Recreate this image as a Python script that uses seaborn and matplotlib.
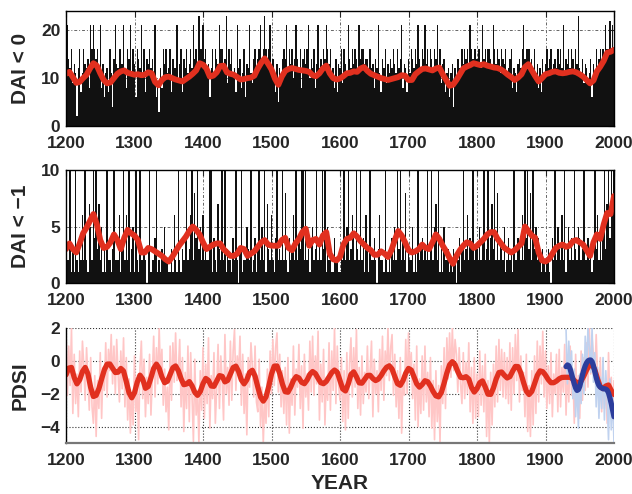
"""Drought area index and PDSI reconstruction, 1200-2000."""
import matplotlib
matplotlib.use("Agg")
import matplotlib.pyplot as plt
import numpy as np
import seaborn as sns

YEARS_2 = np.arange(1200, 2001, 2)
YEARS_4 = np.arange(1200, 2001, 4)
YEARS_5 = np.arange(1200, 2001, 5)
BLUE_YEARS = np.arange(1930, 2001, 2)

XTICKS = [1200, 1300, 1400, 1500, 1600, 1700, 1800, 1900, 2000]

# DAI < 0, annual counts (every 2nd year)
dai0_annual = [
    16, 21, 14, 12, 16, 9, 13, 11, 2, 12, 16, 7, 11, 16, 13, 12, 14, 8, 21, 16,
    21, 16, 14, 16, 12, 21, 8, 13, 6, 11, 12, 7, 16, 11, 4, 14, 21, 13, 12, 16,
    16, 13, 21, 12, 8, 16, 14, 21, 11, 16, 13, 6, 16, 14, 12, 21, 10, 16, 7, 14,
    13, 16, 12, 14, 11, 21, 6, 9, 3, 12, 8, 16, 13, 16, 11, 12, 16, 7, 14, 12,
    12, 21, 9, 13, 16, 7, 14, 12, 16, 11, 13, 16, 12, 21, 14, 16, 13, 23, 16, 16,
    21, 14, 16, 11, 13, 6, 12, 16, 10, 16, 14, 13, 21, 16, 16, 12, 14, 23, 9, 16,
    13, 16, 11, 12, 7, 21, 12, 14, 8, 11, 16, 6, 13, 12, 21, 11, 9, 14, 16, 12,
    14, 16, 21, 13, 16, 23, 16, 13, 16, 21, 12, 14, 11, 7, 13, 5, 12, 9, 14, 16,
    14, 21, 12, 16, 13, 16, 10, 14, 21, 14, 12, 16, 8, 14, 16, 13, 16, 21, 10, 14,
    12, 16, 8, 13, 21, 12, 14, 11, 16, 14, 21, 16, 13, 16, 10, 12, 8, 14, 7, 13,
    12, 16, 9, 16, 13, 11, 21, 14, 12, 16, 13, 16, 14, 12, 21, 14, 16, 16, 13, 14,
    14, 11, 16, 12, 13, 8, 14, 12, 21, 11, 7, 14, 12, 16, 9, 13, 11, 14, 12, 16,
    13, 11, 16, 12, 14, 21, 8, 13, 12, 7, 14, 11, 16, 14, 12, 16, 13, 21, 14, 12,
    16, 14, 21, 13, 16, 12, 16, 14, 11, 16, 14, 21, 12, 16, 9, 13, 14, 7, 11, 12,
    6, 11, 13, 4, 12, 9, 14, 12, 11, 16, 13, 16, 14, 16, 12, 21, 16, 14, 16, 16,
    14, 16, 16, 12, 21, 14, 16, 13, 16, 16, 14, 12, 21, 16, 13, 16, 14, 11, 16, 14,
    13, 16, 11, 12, 14, 16, 8, 12, 11, 7, 13, 14, 12, 16, 21, 14, 16, 16, 16, 13,
    14, 12, 16, 11, 13, 8, 12, 7, 14, 11, 13, 16, 12, 14, 16, 11, 13, 14, 12, 16,
    13, 16, 12, 21, 11, 14, 13, 16, 12, 16, 14, 11, 16, 13, 23, 12, 11, 14, 9, 13,
    12, 9, 11, 14, 6, 13, 11, 16, 12, 14, 16, 13, 16, 14, 21, 16, 16, 22, 16, 21,
    16,
]

# DAI < 0, running mean (every 5 years)
dai0_smooth = [
    10.9, 11.3, 10.2, 9.0, 9.2, 10.0, 10.7, 12.0, 13.1, 12.6,
    11.0, 9.6, 8.9, 9.1, 10.0, 10.9, 11.4, 11.6, 11.1, 10.9,
    10.7, 10.8, 10.6, 10.7, 11.2, 11.0, 9.2, 8.5, 9.6, 10.2,
    10.3, 10.0, 9.7, 9.5, 9.3, 9.8, 10.3, 10.9, 11.6, 13.1,
    12.8, 12.0, 10.3, 10.5, 11.2, 12.5, 12.6, 11.2, 10.9, 10.7,
    10.2, 9.7, 9.8, 10.0, 10.1, 10.5, 12.0, 13.2, 14.1, 13.0,
    11.8, 9.9, 8.6, 10.3, 11.5, 11.9, 12.1, 11.9, 11.7, 11.6,
    11.5, 11.3, 10.6, 10.4, 11.0, 12.0, 12.6, 11.0, 10.0, 9.7,
    9.9, 10.4, 11.0, 11.1, 11.4, 11.3, 12.0, 12.3, 11.5, 10.9,
    10.6, 10.3, 10.0, 9.8, 9.6, 9.8, 10.0, 10.2, 10.6, 10.5,
    9.6, 9.6, 10.8, 11.4, 11.9, 12.0, 11.8, 11.6, 12.0, 12.2,
    10.8, 9.6, 8.4, 8.6, 9.6, 10.8, 12.0, 12.4, 12.7, 13.1,
    12.9, 12.7, 12.9, 12.6, 12.4, 12.2, 12.1, 11.8, 11.3, 10.7,
    10.2, 9.6, 10.1, 10.8, 12.3, 12.9, 11.6, 10.4, 9.3, 10.0,
    10.8, 11.0, 11.3, 11.4, 11.1, 11.0, 11.1, 11.3, 11.4, 11.2,
    10.8, 10.3, 9.6, 8.9, 9.5, 11.4, 12.4, 13.6, 15.3, 15.5,
    15.9,
]

# DAI < -1, annual counts (every 2nd year)
dai1_annual = [
    4, 2, 2, 10, 1, 3, 1, 12, 2, 1, 3, 2, 6, 2, 10, 2, 1, 7, 5, 2,
    10, 4, 12, 3, 7, 2, 5, 1, 3, 1, 10, 2, 2, 1, 3, 10, 2, 2, 2, 6,
    1, 3, 10, 2, 6, 2, 12, 1, 3, 5, 1, 10, 2, 1, 10, 2, 2, 3, 2, 0,
    3, 10, 1, 2, 2, 4, 10, 1, 2, 1, 3, 2, 5, 2, 2, 1, 1, 3, 1, 6,
    2, 1, 10, 2, 1, 3, 2, 4, 10, 2, 3, 6, 12, 2, 8, 4, 10, 3, 5, 2,
    6, 2, 3, 2, 2, 10, 10, 1, 4, 2, 1, 7, 3, 2, 10, 2, 12, 1, 3, 2,
    2, 1, 4, 2, 10, 2, 0, 3, 10, 1, 2, 2, 5, 3, 2, 10, 1, 2, 4, 1,
    3, 10, 2, 5, 2, 10, 1, 7, 3, 2, 6, 2, 1, 4, 10, 2, 3, 2, 10, 2,
    8, 2, 1, 4, 2, 3, 6, 2, 10, 2, 4, 3, 10, 12, 2, 10, 2, 3, 1, 4,
    5, 2, 3, 10, 2, 4, 2, 10, 3, 12, 1, 5, 2, 2, 1, 1, 4, 2, 2, 1,
    1, 3, 2, 10, 2, 5, 10, 2, 3, 6, 4, 2, 12, 3, 2, 10, 2, 4, 1, 6,
    3, 1, 10, 2, 2, 4, 2, 0, 3, 6, 2, 2, 1, 10, 2, 1, 3, 1, 4, 2,
    5, 2, 10, 3, 10, 2, 4, 2, 8, 1, 3, 2, 2, 5, 1, 3, 1, 10, 2, 3,
    4, 2, 3, 2, 10, 2, 3, 10, 2, 5, 7, 2, 10, 1, 3, 1, 5, 2, 2, 3,
    1, 2, 1, 3, 2, 0, 2, 4, 1, 3, 10, 2, 3, 6, 2, 4, 3, 10, 2, 3,
    3, 2, 5, 2, 4, 10, 2, 3, 10, 2, 4, 7, 3, 10, 2, 8, 2, 4, 3, 2,
    5, 1, 2, 4, 2, 3, 1, 10, 2, 2, 4, 3, 2, 6, 2, 10, 4, 10, 3, 8,
    2, 10, 3, 5, 2, 4, 2, 1, 3, 2, 1, 2, 3, 1, 0, 4, 2, 10, 2, 5,
    3, 2, 6, 2, 10, 1, 3, 5, 2, 4, 2, 10, 3, 2, 5, 4, 2, 3, 10, 2,
    2, 4, 2, 3, 1, 2, 10, 3, 6, 2, 4, 2, 5, 10, 3, 7, 10, 4, 10, 6,
    10,
]

# DAI < -1, running mean (every 5 years)
dai1_smooth = [
    3.0, 3.5, 3.0, 2.7, 3.5, 4.4, 4.9, 5.5, 6.1, 5.2,
    3.8, 3.1, 3.2, 3.6, 4.3, 3.8, 3.0, 4.0, 4.7, 4.4,
    4.2, 3.8, 2.7, 2.7, 3.1, 3.0, 2.8, 2.6, 2.4, 2.1,
    1.9, 2.3, 2.8, 3.3, 3.7, 4.1, 4.6, 5.0, 4.7, 4.3,
    3.6, 3.0, 3.2, 3.4, 3.5, 3.5, 3.0, 2.7, 2.4, 2.4,
    2.6, 3.1, 3.0, 2.4, 2.6, 2.8, 3.2, 3.6, 3.8, 3.4,
    3.3, 3.3, 3.3, 3.8, 4.0, 3.1, 2.9, 3.5, 3.9, 4.5,
    4.8, 3.3, 3.8, 3.9, 3.4, 4.2, 4.5, 2.6, 2.1, 2.0,
    2.3, 3.4, 3.9, 4.0, 4.4, 4.1, 3.7, 3.4, 3.1, 2.9,
    2.5, 2.5, 2.8, 2.6, 2.3, 2.9, 3.8, 4.6, 4.2, 3.6,
    2.9, 2.7, 2.8, 3.0, 3.4, 3.1, 3.0, 3.6, 4.3, 3.9,
    3.3, 2.8, 2.2, 1.7, 2.4, 2.9, 3.3, 3.6, 3.5, 3.1,
    3.3, 3.6, 3.9, 4.3, 4.5, 4.5, 3.9, 3.5, 3.1, 2.9,
    2.7, 2.9, 3.2, 3.5, 5.0, 4.6, 4.2, 4.0, 2.7, 2.0,
    1.9, 2.1, 2.6, 3.1, 3.3, 3.4, 3.2, 3.3, 3.7, 3.8,
    3.6, 3.4, 2.9, 2.4, 3.6, 4.3, 3.9, 5.2, 6.2, 6.1,
    7.7,
]

# reconstructed PDSI, annual (every 2nd year)
pdsi_annual = [
    1.8, -2.1, 0.9, -1.5, 2.0, -3.2, 0.4, -2.6, -0.8, -3.4, 0.6, -1.9, 1.2, -0.3, -2.4, 0.8, -1.1, -3.0, 0.2, -2.8,
    -3.8, -0.9, -4.6, -1.2, -2.9, 0.5, -3.5, -0.4, -1.8, 1.1, -2.2, 0.7, -0.6, 1.6, -1.4, 0.9, -2.0, 1.3, -0.8, -2.5,
    0.6, -1.7, 1.4, -2.8, 0.2, -3.6, -1.1, -4.4, -2.0, -3.9, 0.3, -3.1, -1.5, -4.8, -0.4, 1.2, -2.3, 0.1, -3.4, -1.0,
    -2.6, 0.4, -3.3, -1.0, 1.5, -2.2, 0.8, -1.4, 2.0, -0.9, 0.7, -2.7, -0.5, -3.1, -1.6, -4.2, 0.9, -2.4, 1.1, -1.3,
    1.7, -1.2, -0.6, 1.3, -2.8, 0.2, -4.3, -0.7, -2.9, 0.9, -3.7, 0.5, -2.1, -4.9, 0.1, -3.3, -1.8, -5.0, -0.6, -3.0,
    0.8, -3.5, -0.2, -2.6, 1.4, -4.1, -0.9, -2.3, 0.5, -3.8, -1.7, 1.0, -2.9, 0.3, -1.2, -3.6, 1.6, -2.0, -0.4, -2.7,
    1.2, -2.4, 0.6, 1.9, -1.8, 0.3, -0.9, 1.5, -2.7, 0.4, -3.2, -0.8, -4.5, 0.2, -1.6, 1.1, -0.3, -2.2, 0.9, -2.5,
    -3.1, 0.1, -4.0, -1.6, -5.0, -2.3, -3.8, -0.5, -3.4, 0.6, -2.0, 1.3, -1.5, 0.8, 1.7, -1.9, 0.4, -2.8, -0.6, -3.2,
    -0.4, -3.9, 0.2, -4.4, -1.1, -2.7, 0.9, -3.3, -0.5, -1.6, 1.0, -2.9, -0.3, -4.1, 0.4, -2.2, -0.8, -3.0, 1.2, -1.9,
    1.5, -2.1, 0.3, -1.4, 1.8, -3.6, -0.2, -2.5, 0.7, -3.9, -1.0, -2.4, 1.1, -3.0, 0.6, -1.8, 2.0, -2.6, 0.9, -1.5,
    -2.4, 0.2, -3.7, -0.6, -4.2, 0.5, -3.5, -0.1, 1.4, -2.2, 0.8, -1.6, 1.9, -2.9, -0.4, -3.3, 0.3, -2.6, -0.7, -1.9,
    0.9, -2.3, -0.5, 1.2, -3.4, 0.1, -2.0, -0.6, -3.1, 0.7, -1.8, 1.5, -2.4, 0.6, -0.9, 2.0, -1.2, 0.8, 1.6, -2.1,
    0.4, -2.8, -0.6, -3.5, 0.2, -4.4, -0.9, -2.1, 1.3, -2.0, 1.7, -0.8, 0.5, -2.3, -0.2, -3.6, 0.9, -4.0, -1.1, -3.2,
    0.3, -3.0, 0.9, -2.5, -0.7, -3.4, 0.2, -4.1, -1.2, -4.8, -0.6, -3.7, -1.5, -5.0, -0.3, -2.6, 0.8, -2.9, 1.4, -1.1,
    1.7, -1.0, 2.0, -0.6, 1.3, 0.4, -1.9, 0.8, -1.4, -2.6, 0.5, -2.3, -0.1, -2.0, 1.1, -3.1, -0.4, -3.8, 0.2, -3.5,
    -0.8, -3.4, 0.6, -2.7, -0.3, -3.1, 0.4, -4.6, -1.2, -5.0, -0.7, -3.9, -0.2, -2.8, 0.9, -2.5, 1.3, -1.8, 0.7, -2.2,
    0.5, -2.3, 0.2, -2.6, 1.1, -3.0, 0.8, -2.0, 1.6, -1.2, 1.9, -2.5, 0.3, -1.8, -0.7, -3.4, 0.4, -4.3, -1.5, -4.6,
    -0.6, -3.9, 0.3, -3.2, 1.2, -2.5, 0.9, -1.4, 1.8, -2.2, 0.6, -2.9, -0.3, -2.6, 0.5, -3.4, -0.8, -2.0, 0.4, -3.1,
    0.7, -2.8, -0.4, -1.9, 1.0, -3.3, -0.1, -2.5, 0.9, -2.1, -0.6, -3.8, 0.4, -2.7, -0.9, -3.5, 0.6, -2.4, 0.2, -1.8,
    1.1, -1.6, 2.0, -0.8, 1.4, 0.3, -1.2, 1.6, -0.9, -2.3, 0.2, -3.1, -0.7, -2.9, -1.4, -3.8, 0.5, -2.6, -1.0, -3.6,
    -1.2,
]

# reconstructed PDSI, smoothed (every 4 years)
pdsi_smooth = [
    -0.85, -0.44, -0.40, -1.02, -1.40, -1.15, -0.65, -0.40, -0.79, -1.62,
    -2.17, -2.10, -1.69, -1.10, -0.54, -0.20, -0.19, -0.45, -0.71, -0.69,
    -0.46, -0.62, -1.26, -1.94, -2.25, -1.94, -1.30, -0.87, -1.11, -1.67,
    -1.56, -1.03, -0.46, -0.20, -0.45, -0.98, -1.33, -1.24, -0.83, -0.42,
    -0.31, -0.60, -1.09, -1.45, -1.41, -1.26, -1.52, -1.91, -2.10, -1.87,
    -1.39, -1.07, -1.19, -1.53, -1.55, -1.22, -0.90, -0.94, -1.28, -1.19,
    -0.80, -0.41, -0.32, -0.65, -1.16, -1.40, -1.15, -0.70, -0.57, -0.93,
    -1.59, -2.20, -2.45, -2.19, -1.55, -0.80, -0.32, -0.31, -0.78, -1.42,
    -1.88, -1.91, -1.60, -1.20, -0.96, -1.04, -1.31, -1.39, -1.16, -0.82,
    -0.65, -0.77, -1.06, -1.33, -1.39, -1.25, -0.98, -0.71, -0.56, -0.69,
    -1.20, -1.71, -1.83, -1.41, -0.83, -0.67, -0.97, -1.34, -1.36, -1.13,
    -0.89, -0.88, -1.08, -1.20, -1.11, -0.89, -0.61, -0.39, -0.30, -0.50,
    -0.96, -1.39, -1.49, -1.20, -0.75, -0.46, -0.56, -0.97, -1.40, -1.60,
    -1.44, -1.21, -1.27, -1.53, -1.87, -2.13, -2.19, -1.92, -1.36, -0.74,
    -0.24, -0.05, -0.24, -0.66, -1.00, -1.03, -0.96, -1.11, -1.62, -1.90,
    -1.69, -1.33, -1.22, -1.59, -2.03, -2.04, -1.65, -1.10, -0.71, -0.68,
    -0.88, -1.04, -0.96, -0.63, -0.34, -0.35, -0.74, -1.32, -1.84, -2.05,
    -1.86, -1.39, -0.89, -0.61, -0.66, -0.87, -1.14, -1.33, -1.33, -1.23,
    -1.09, -1.01, -1.00, -1.00, -1.00, -1.11, -1.27, -1.35, -1.23, -0.92,
    -0.55, -0.27, -0.21, -0.54, -1.10, -1.58, -1.69, -1.53, -1.47, -1.80,
    -2.05,
]

# instrumental PDSI, annual and smoothed (every 2nd year from 1930)
obs_annual = [
    1.9, -1.4, 1.2, -0.9, 0.6, -2.3, -0.5, -3.4, -1.2, -4.1,
    -0.8, -2.6, 0.4, -2.0, 1.5, -0.6, 2.0, 0.8, -0.7, 2.0,
    -1.3, 0.5, -2.8, -0.4, -3.5, -1.0, -2.9, 0.2, -3.6, -0.6,
    -2.4, -4.8, -1.1, -4.2, -2.0, -5.0,
]
obs_smooth = [
    -0.35, -0.25, -0.30, -0.50, -0.80, -1.10, -1.40, -1.65, -1.80, -1.75,
    -1.55, -1.20, -0.85, -0.55, -0.30, -0.12, 0.00, 0.05, 0.05, -0.05,
    -0.30, -0.65, -1.00, -1.30, -1.50, -1.60, -1.65, -1.70, -1.70, -1.72,
    -1.78, -1.95, -2.25, -2.60, -3.00, -3.40,
]

RED = "#e1301f"
NAVY = "#2c3d9c"
PINK = "#ffc6c6"
LIGHT_BLUE = "#c0d2ef"


def style_axes(ax, yticks, ylim, label, grid_style):
    ax.set_xlim(1200, 2000)
    ax.set_ylim(*ylim)
    ax.set_xticks(XTICKS)
    ax.set_yticks(yticks)
    ax.set_xlabel("")
    ax.grid(True, linestyle=grid_style, color="#666666", linewidth=0.7)
    ax.tick_params(direction="in", length=4, width=0.8, top=True, right=True,
                   labelsize=12.5, pad=4)
    ax.tick_params(axis="x", pad=7)
    ax.set_ylabel(label, fontsize=15, fontweight="bold")
    ax.yaxis.set_label_coords(-0.066, 0.5)
    for sp in ax.spines.values():
        sp.set_color("black")
        sp.set_linewidth(1.0)


def main() -> None:
    sns.set_style("white")
    plt.rcParams["font.family"] = ["Liberation Sans", "DejaVu Sans"]
    plt.rcParams["font.weight"] = "bold"

    fig = plt.figure(figsize=(6.32, 4.94), dpi=100)
    W, H = 632, 494
    ax1 = fig.add_axes([66 / W, 1 - 126 / H, 548 / W, 115 / H])
    ax2 = fig.add_axes([66 / W, 1 - 283 / H, 548 / W, 113 / H])
    ax3 = fig.add_axes([66 / W, 1 - 443 / H, 548 / W, 115 / H])

    dashdot = (0, (3, 2, 1, 2))

    # top: DAI < 0
    sns.barplot(x=YEARS_2, y=dai0_annual, native_scale=True, color="#111111",
                saturation=1, width=1.0, linewidth=0, errorbar=None, ax=ax1)
    sns.lineplot(x=YEARS_5, y=dai0_smooth, color=RED, lw=4.2,
                 solid_joinstyle="round", ax=ax1)
    style_axes(ax1, [0, 10, 20], (0, 24), "DAI < 0", dashdot)

    # middle: DAI < -1
    sns.barplot(x=YEARS_2, y=dai1_annual, native_scale=True, color="#111111",
                saturation=1, width=1.0, linewidth=0, errorbar=None, ax=ax2)
    sns.lineplot(x=YEARS_5, y=dai1_smooth, color=RED, lw=4.2,
                 solid_joinstyle="round", ax=ax2)
    style_axes(ax2, [0, 5, 10], (0, 10), "DAI < \u22121", dashdot)

    # bottom: PDSI
    sns.lineplot(x=YEARS_2, y=pdsi_annual, color=PINK, lw=1.2, ax=ax3)
    sns.lineplot(x=BLUE_YEARS, y=obs_annual, color=LIGHT_BLUE, lw=1.2, ax=ax3)
    sns.lineplot(x=YEARS_4, y=pdsi_smooth, color=RED, lw=3.8,
                 solid_joinstyle="round", ax=ax3)
    sns.lineplot(x=BLUE_YEARS, y=obs_smooth, color=NAVY, lw=3.8,
                 solid_joinstyle="round", solid_capstyle="round", ax=ax3)
    style_axes(ax3, [-4, -2, 0, 2], (-5, 2), "PDSI", ":")
    ax3.grid(True, linestyle=":", color="#333333", linewidth=0.8)
    ax3.spines["top"].set_visible(False)
    ax3.spines["right"].set_visible(False)
    ax3.spines["bottom"].set_color("#777777")
    ax3.spines["bottom"].set_linewidth(1.6)
    ax3.tick_params(top=False, right=False)
    ax3.set_xlabel("YEAR", fontsize=15, fontweight="bold")
    ax3.xaxis.set_label_coords(0.5, -0.27)

    fig.savefig("out.png", dpi=100)
    plt.close(fig)


if __name__ == "__main__":
    main()
